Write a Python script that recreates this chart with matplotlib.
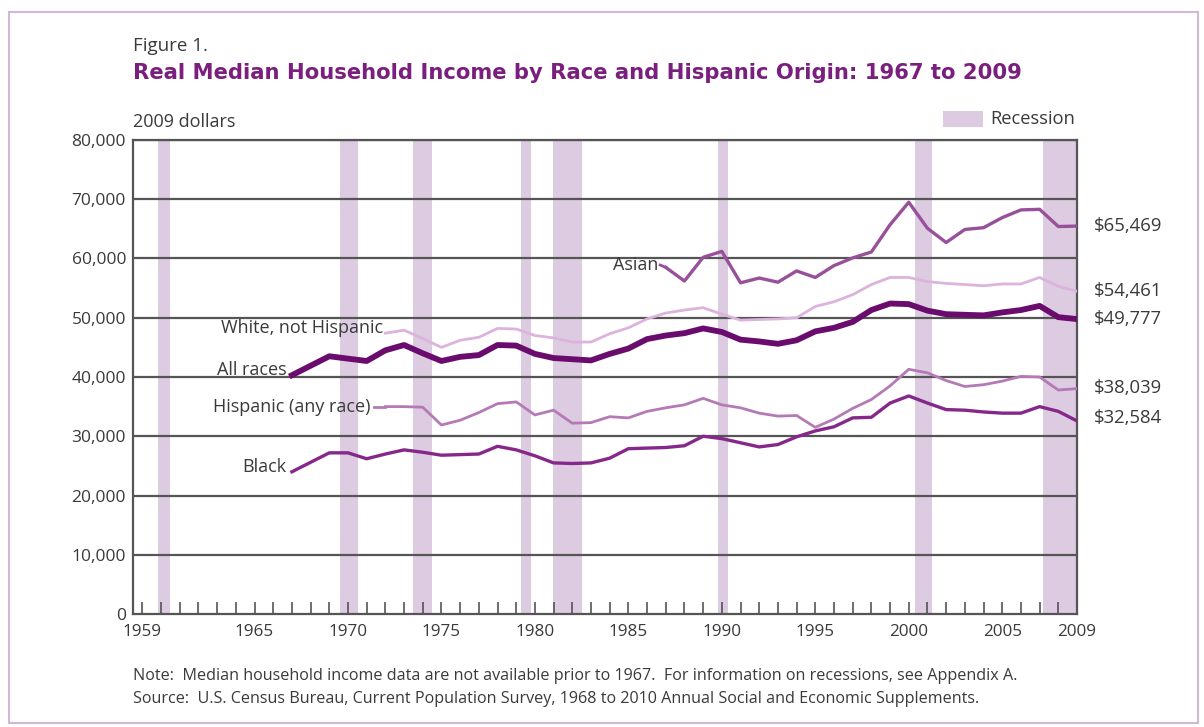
# Real median household income by race and Hispanic origin, 1967-2009

import matplotlib.pyplot as plt
from matplotlib.patches import Rectangle

plt.rcParams['font.family'] = ['Open Sans', 'DejaVu Sans']

W, H = 1204, 727

# data (2009 dollars)
years_all = list(range(1967, 2010))
all_races = [40300, 41900, 43500, 43100, 42700, 44500, 45400, 44000, 42700, 43400,
             43700, 45400, 45300, 43900, 43200, 43000, 42800, 43900, 44800, 46400,
             47000, 47400, 48200, 47600, 46300, 46000, 45600, 46200, 47700, 48300,
             49300, 51300, 52400, 52300, 51200, 50600, 50500, 50400, 50900, 51300,
             52000, 50100, 49777]
black = [24000, 25600, 27200, 27200, 26200, 27000, 27700, 27300, 26800, 26900,
         27000, 28300, 27700, 26700, 25500, 25400, 25500, 26300, 27900, 28000,
         28100, 28400, 30000, 29600, 28900, 28200, 28600, 29900, 30900, 31600,
         33100, 33200, 35600, 36800, 35600, 34500, 34400, 34100, 33900, 33900,
         35000, 34200, 32584]

years_72 = list(range(1972, 2010))
white_nh = [47400, 47900, 46500, 45000, 46200, 46700, 48200, 48100, 47000, 46600,
            45900, 45900, 47300, 48300, 49800, 50800, 51300, 51700, 50600, 49600,
            49700, 49800, 50000, 51900, 52700, 53900, 55600, 56800, 56800, 56100,
            55800, 55600, 55400, 55700, 55700, 56800, 55300, 54461]
hispanic = [35000, 35000, 34900, 31900, 32700, 34000, 35500, 35800, 33600, 34400,
            32200, 32300, 33300, 33100, 34200, 34800, 35300, 36400, 35300, 34800,
            33900, 33400, 33500, 31500, 32900, 34700, 36200, 38500, 41300, 40700,
            39400, 38400, 38700, 39300, 40100, 40000, 37800, 38039]

years_87 = list(range(1987, 2010))
asian = [58500, 56200, 60200, 61200, 55900, 56700, 56000, 57900, 56800, 58800,
         60100, 61100, 65700, 69500, 65100, 62700, 64900, 65200, 66900, 68200,
         68300, 65400, 65469]

# recession periods (as drawn on the chart)
recessions = [(1959.84, 1960.48), (1969.57, 1970.53), (1973.47, 1974.49),
              (1979.25, 1979.78), (1980.96, 1982.51), (1989.78, 1990.32),
              (2000.32, 2001.23), (2007.16, 2009.0)]

tick_labels = [1959, 1965, 1970, 1975, 1980, 1985, 1990, 1995, 2000, 2005, 2009]

end_labels = ['$65,469', '$54,461', '$49,777', '$38,039', '$32,584']
end_values = [65469, 54461, 49777, 38139, 33000]

band_color = '#dccbe1'
title_color = '#7a1f7d'
text_color = '#3a3a3a'
grid_color = '#555555'

fig = plt.figure(figsize=(W / 100, H / 100), dpi=100)
fig.patch.set_facecolor('white')


def fx(px):
    return px / W


def fy(py):
    return 1 - py / H


# outer frame
fig.add_artist(Rectangle((fx(9), fy(723)), fx(1198) - fx(9), fy(12) - fy(723),
                         transform=fig.transFigure, fill=False,
                         edgecolor='#d3b6d8', linewidth=1.5))

ax = fig.add_axes([fx(133), fy(614), fx(1077) - fx(133), fy(140) - fy(614)])
ax.set_xlim(1958.5, 2009.0)
ax.set_ylim(0, 80000)

for a, b in recessions:
    ax.axvspan(a, b, color=band_color, linewidth=0, zorder=0)

for yv in range(10000, 80001, 10000):
    ax.axhline(yv, color=grid_color, linewidth=1.6, zorder=1)

# series
ax.plot(years_72, white_nh, color='#dcb3dc', linewidth=2.0, zorder=3)
ax.plot(years_72, hispanic, color='#b47ab6', linewidth=2.0, zorder=3)
ax.plot(years_87, asian, color='#98509a', linewidth=2.4, zorder=3)
ax.plot(years_all, black, color='#86288a', linewidth=2.4, zorder=4)
ax.plot(years_all, all_races, color='#6a0c6e', linewidth=4.2, zorder=5)

# series labels
lab = dict(color=text_color, fontsize=13, va='center')
ax.text(1971.9, 48300, 'White, not Hispanic', ha='right', **lab)
ax.text(1966.7, 41200, 'All races', ha='right', **lab)
ax.text(1971.2, 35000, 'Hispanic (any race)', ha='right', **lab)
ax.plot([1971.4, 1972], [35000, 35000], color='#b47ab6', linewidth=2.0)
ax.text(1966.7, 24800, 'Black', ha='right', **lab)
ax.text(1986.6, 58900, 'Asian', ha='right', **lab)
ax.plot([1986.7, 1987], [58900, 58500], color='#98509a', linewidth=2.0)

for t, v in zip(end_labels, end_values):
    ax.text(2009.9, v, t, ha='left', va='center', color=text_color, fontsize=13.3,
            clip_on=False)

# axes styling
for s in ax.spines.values():
    s.set_color(grid_color)
    s.set_linewidth(1.6)

ax.set_xticks(tick_labels)
ax.set_xticks(range(1959, 2010), minor=True)
ax.tick_params(axis='x', which='both', direction='in', length=9, width=1.2,
               color=grid_color, labelsize=12.3, labelcolor=text_color, pad=7)
ax.set_yticks(range(0, 80001, 10000))
ax.set_yticklabels([f'{v:,}' for v in range(0, 80001, 10000)])
ax.tick_params(axis='y', length=0, labelsize=12.5, labelcolor=text_color, pad=5)

# titles and notes
fig.text(fx(133), fy(46), 'Figure 1.', fontsize=13.5, color=text_color, va='center')
fig.text(fx(133), fy(73),
         'Real Median Household Income by Race and Hispanic Origin: 1967 to 2009',
         fontsize=15.2, fontweight='bold', color=title_color, va='center',
         family='DejaVu Sans')
fig.text(fx(133), fy(122), '2009 dollars', fontsize=13, color=text_color, va='center')

# recession legend
fig.add_artist(Rectangle((fx(943), fy(127)), fx(983) - fx(943), fy(111) - fy(127),
                         transform=fig.transFigure, color=band_color, linewidth=0))
fig.text(fx(990), fy(119), 'Recession', fontsize=13.2, color=text_color, va='center')

fig.text(fx(133), fy(676),
         'Note:  Median household income data are not available prior to 1967.  '
         'For information on recessions, see Appendix A.',
         fontsize=11.6, color=text_color, va='center')
fig.text(fx(133), fy(699),
         'Source:  U.S. Census Bureau, Current Population Survey, 1968 to 2010 '
         'Annual Social and Economic Supplements.',
         fontsize=11.6, color=text_color, va='center')

plt.savefig('out.png', dpi=100)
plt.close()
